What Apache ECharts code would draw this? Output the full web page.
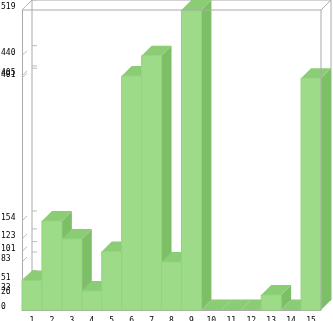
<!DOCTYPE html>
<html>
<head>
<meta charset="utf-8">
<script src="https://cdn.jsdelivr.net/npm/echarts@6/dist/echarts.min.js"></script>
<style>html,body{margin:0;padding:0;background:#fff}#c{width:333px;height:321px}</style>
</head>
<body>
<div id="c"></div>
<script>
const categories = ['1','2','3','4','5','6','7','8','9','10','11','12','13','14','15'];
const values = [51, 154, 123, 33, 101, 405, 440, 83, 519, 0, 0, 0, 26, 0, 401];
const tickValues = [0, 26, 33, 51, 83, 101, 123, 154, 401, 405, 440, 519];

const D = 10;
const FRONT = '#9ddb89';
const TOP = '#8acd75';
const SIDE = '#7dbf67';
const EDGE = '#93d47f';
const FRAME = '#aaaaaa';

const chart = echarts.init(document.getElementById('c'), null, {renderer: 'canvas'});

function barItem(params, api) {
  const i = api.value(0), v = api.value(1);
  const t = api.coord([i, v]);
  const b = api.coord([i, 0]);
  const w = api.size([1, 0])[0];
  const x0 = t[0] - w / 2, x1 = t[0] + w / 2, yt = t[1], yb = b[1];
  const ch = [];
  if (yb - yt > 0.5) {
    ch.push({type: 'polygon', shape: {points: [[x1, yt], [x1 + D, yt - D], [x1 + D, yb - D], [x1, yb]]}, style: {fill: SIDE}});
  }
  ch.push({type: 'polygon', shape: {points: [[x0, yt], [x0 + D, yt - D], [x1 + D, yt - D], [x1, yt]]}, style: {fill: TOP}});
  if (yb - yt > 0.5) {
    ch.push({type: 'rect', shape: {x: x0, y: yt, width: w, height: yb - yt}, style: {fill: FRONT, stroke: EDGE, lineWidth: 1}});
  }
  return {type: 'group', children: ch};
}

function line(x1, y1, x2, y2, color) {
  return {type: 'line', shape: {x1, y1, x2, y2}, style: {stroke: color || FRAME, lineWidth: 1}};
}

function backFrame(params, api) {
  const c = params.coordSys;
  const x = c.x, y = c.y, w = c.width, h = c.height;
  return {type: 'group', children: [
    line(x + D, y - D, x + D, y + h - D),
    line(x + D, y - D, x + w + D, y - D),
    line(x + w + D, y - D, x + w + D, y + h - D),
    line(x + D, y + h - D, x + w + D, y + h - D),
    line(x, y, x + D, y - D),
    line(x + w, y, x + w + D, y - D),
    line(x, y + h, x + D, y + h - D)
  ]};
}

function frontFrame(params, api) {
  const c = params.coordSys;
  const x = c.x, y = c.y, w = c.width, h = c.height;
  return {type: 'group', children: [
    line(x, y, x + w, y),
    line(x + w, y, x + w, y + h)
  ]};
}

function stubItem(params, api) {
  const c = params.coordSys;
  const p = api.coord([0, api.value(0)]);
  const x = c.x, py = p[1];
  return {type: 'group', children: [
    line(x, py, x + 5, py - 5, '#bbbbbb'),
    line(x + D, py - D, x + D + 5, py - D, '#bbbbbb')
  ]};
}

chart.setOption({
  animation: false,
  grid: {left: 22, right: 12, top: 10, bottom: 11, containLabel: false, outerBoundsMode: 'none'},
  xAxis: {
    type: 'category',
    data: categories,
    boundaryGap: true,
    axisLine: {show: true, lineStyle: {color: FRAME, width: 1}},
    axisTick: {show: false},
    axisLabel: {margin: 7, fontSize: 8, fontFamily: 'DejaVu Sans Mono', color: '#000'},
    splitLine: {show: false}
  },
  yAxis: {
    type: 'value',
    min: 0,
    max: 519,
    axisLine: {show: true, lineStyle: {color: FRAME, width: 1}},
    axisTick: {show: false},
    splitLine: {show: false},
    axisLabel: {
      customValues: tickValues,
      showMinLabel: true,
      showMaxLabel: true,
      hideOverlap: false,
      align: 'left',
      verticalAlign: 'bottom',
      lineHeight: 6,
      margin: 21,
      fontSize: 8,
      fontFamily: 'DejaVu Sans Mono',
      color: '#000'
    }
  },
  series: [
    {type: 'custom', z: 1, renderItem: backFrame, data: [[0]], silent: true},
    {type: 'custom', z: 1, renderItem: stubItem, data: tickValues.map(v => [v]), encode: {y: 0}, silent: true},
    {type: 'custom', z: 2, renderItem: barItem, data: values.map((v, i) => [i, v]), encode: {x: 0, y: 1}},
    {type: 'custom', z: 3, renderItem: frontFrame, data: [[0]], silent: true}
  ]
});
</script>
</body>
</html>
